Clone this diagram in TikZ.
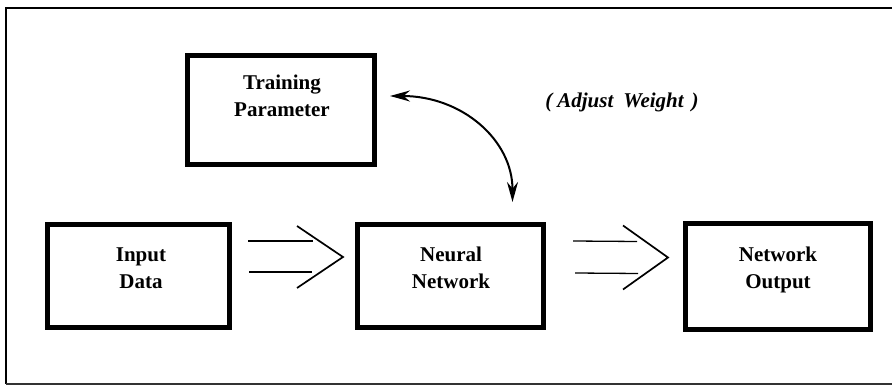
\documentclass[tikz,border=0pt]{standalone}
\usepackage{fontspec}
\setmainfont{Liberation Serif}
\usetikzlibrary{arrows.meta,calc}
\begin{document}
\begin{tikzpicture}[x=1pt,y=-1pt,
  block/.style={draw,line width=5pt,inner sep=0pt},
  lbl/.style={font=\fontsize{21}{27}\selectfont\bfseries,align=center,inner sep=0pt},
  bar/.style={line width=1.3pt},
  chevron/.style={line width=1.7pt,line join=miter},
  feedback/.style={line width=2pt,{Stealth[length=20pt,width=11pt]}-{Stealth[length=20pt,width=11pt]}}]
\useasboundingbox (0,0) rectangle (892,387);

% outer frame
\draw[line width=2pt] (892,8) -- (6.3,8) -- (6.3,384);
\draw[line width=1.4pt,black!80] (6.3,384) -- (892,384);

% blocks
\node[block,minimum width=187pt,minimum height=109pt] (tp) at (281,110) {};
\node[block,minimum width=182pt,minimum height=103pt] (in) at (138.5,276) {};
\node[block,minimum width=186pt,minimum height=103pt] (nn) at (450.5,276) {};
\node[block,minimum width=185pt,minimum height=106pt] (no) at (778,276.5) {};

% block captions
\node[lbl] (tpT) at (282,96) {Training\\Parameter};
\node[lbl] (inT) at (141,268) {Input\\Data};
\node[lbl] (nnT) at (451,268) {Neural\\Network};
\node[lbl] (noT) at (778,270) {Network\\Output};

% feedback annotation
\node[font=\fontsize{21}{24}\selectfont\bfseries\itshape,inner sep=0pt] (adj) at (622,102)
  {(\hspace{5pt}Adjust\hspace{10pt}Weight\hspace{8pt})};

% double-line arrow: input -> network
\coordinate (a1t0) at ($(in.east)+(16,-35)$);
\coordinate (a1t1) at ($(nn.west)+(-42,-35)$);
\coordinate (a1b0) at ($(in.east)+(17,-4)$);
\coordinate (a1b1) at ($(nn.west)+(-43,-4)$);
\coordinate (a1u) at ($(nn.west)+(-58,-50)$);
\coordinate (a1p) at ($(nn.west)+(-12,-19)$);
\coordinate (a1d) at ($(nn.west)+(-58,12)$);
\draw[bar] (a1t0) -- (a1t1);
\draw[bar] (a1b0) -- (a1b1);
\draw[chevron] (a1u) -- (a1p) -- (a1d);

% double-line arrow: network -> output
\coordinate (a2t0) at ($(nn.east)+(27,-35)$);
\coordinate (a2t1) at ($(no.west)+(-46,-35)$);
\coordinate (a2b0) at ($(nn.east)+(29,-3)$);
\coordinate (a2b1) at ($(no.west)+(-45,-3)$);
\coordinate (a2u) at ($(no.west)+(-60,-51)$);
\coordinate (a2p) at ($(no.west)+(-15,-19)$);
\coordinate (a2d) at ($(no.west)+(-60,13)$);
\draw[bar] (a2t0) -- (a2t1);
\draw[bar] (a2b0) -- (a2b1);
\draw[chevron] (a2u) -- (a2p) -- (a2d);

% weight adjustment loop between parameters and network
\coordinate (fbS) at ($(tp.east)+(13,-14)$);
\coordinate (fbE) at ($(nn.north)+(62,-20)$);
\draw[feedback] (fbS) .. controls (462,96) and (512.5,140) .. (fbE);
\end{tikzpicture}
\end{document}
